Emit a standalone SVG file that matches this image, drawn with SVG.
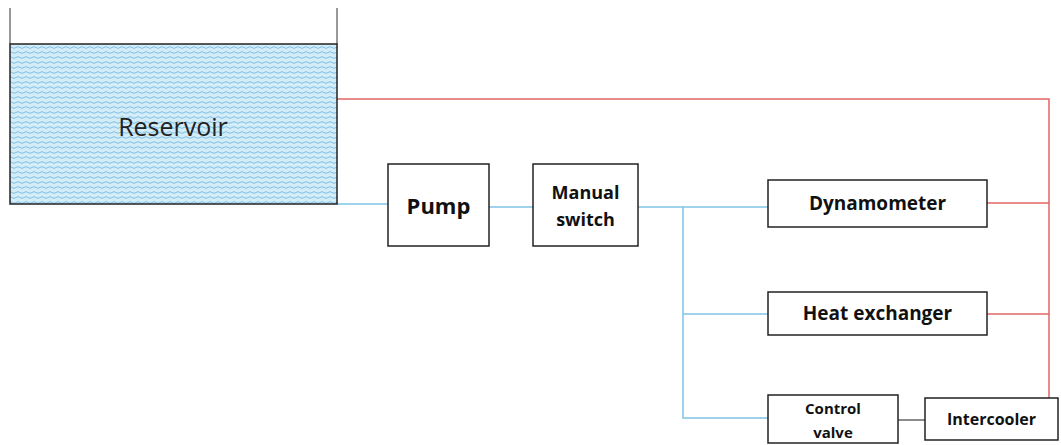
<svg xmlns="http://www.w3.org/2000/svg" width="1061" height="445" viewBox="0 0 1061 445">
<style>
.box{fill:#fff;stroke:#222;stroke-width:1.5}
.lbl{font-family:"Open Sans","Liberation Sans",sans-serif;font-weight:bold;font-size:19px;fill:#111;text-anchor:middle}
.blue{stroke:#7cc4e6;stroke-width:1.5;fill:none}
.red{stroke:#e06666;stroke-width:1.5;fill:none}
.gray{stroke:#666;stroke-width:1.5;fill:none}
</style>
<defs>
<pattern id="waves" width="8" height="5" patternUnits="userSpaceOnUse">
<rect width="8" height="5" fill="#d3ecf8"/>
<path d="M0 2.5 Q2 0.8 4 2.5 T8 2.5" fill="none" stroke="#56acd9" stroke-width="0.7"/>
</pattern>
</defs>
<g id="connectors">
<path class="red" d="M337 99 H1049 V398"/>
<path class="red" d="M987 203 H1049"/>
<path class="red" d="M987 314 H1049"/>
<path class="blue" d="M337 204 H388"/>
<path class="blue" d="M489 207 H533"/>
<path class="blue" d="M638 207 H768"/>
<path class="blue" d="M683 207 V418 H768"/>
<path class="blue" d="M683 314 H768"/>
<path class="gray" d="M898 420 H925"/>
</g>
<g id="reservoir">
<path d="M10 8 V44 M337 8 V44" stroke="#555" stroke-width="1.2" fill="none"/>
<rect x="10" y="44" width="327" height="160" fill="url(#waves)" stroke="#222" stroke-width="1.5"/>
<text x="173" y="136" font-family="Open Sans, Liberation Sans, sans-serif" font-size="25" fill="#222" text-anchor="middle">Reservoir</text>
</g>
<g id="pump">
<rect class="box" x="388" y="164" width="101" height="82"/>
<text class="lbl" x="438.5" y="214" style="font-size:22px">Pump</text>
</g>
<g id="manual-switch">
<rect class="box" x="533" y="164" width="105" height="82"/>
<text class="lbl" x="585.5" y="199" style="font-size:18px">Manual</text>
<text class="lbl" x="585.5" y="226" style="font-size:18px">switch</text>
</g>
<g id="dynamometer">
<rect class="box" x="768" y="180" width="219" height="47"/>
<text class="lbl" x="877.5" y="210">Dynamometer</text>
</g>
<g id="heat-exchanger">
<rect class="box" x="768" y="292" width="219" height="43"/>
<text class="lbl" x="877.5" y="320">Heat exchanger</text>
</g>
<g id="control-valve">
<rect class="box" x="768" y="395" width="130" height="48"/>
<text class="lbl" x="833" y="414" style="font-size:15px">Control</text>
<text class="lbl" x="833" y="438" style="font-size:15px">valve</text>
</g>
<g id="intercooler">
<rect class="box" x="925" y="398" width="133" height="42"/>
<text class="lbl" x="991.5" y="425" style="font-size:16px">Intercooler</text>
</g>
</svg>
